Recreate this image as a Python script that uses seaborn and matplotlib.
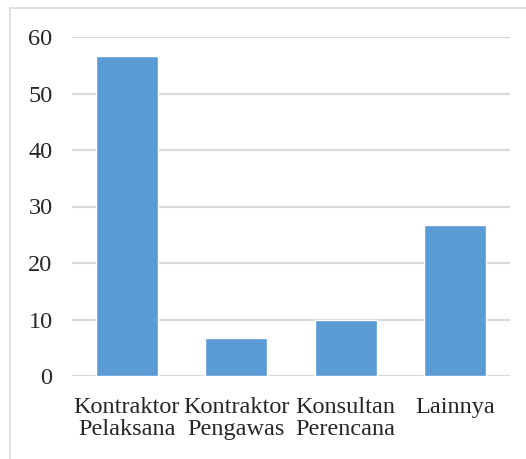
import pandas as pd
import seaborn as sns
import matplotlib.pyplot as plt
from matplotlib.lines import Line2D

kategori = ['Kontraktor\nPelaksana', 'Kontraktor\nPengawas', 'Konsultan\nPerencana', 'Lainnya']
nilai = [56.67, 6.67, 10.0, 26.67]
yticks = [0, 10, 20, 30, 40, 50, 60]

df = pd.DataFrame({'kategori': kategori, 'nilai': nilai})

sns.set_style('white')
plt.rcParams['font.family'] = ['Liberation Serif', 'DejaVu Serif']

fig = plt.figure(figsize=(5.26, 4.59), dpi=100)
ax = fig.add_axes([72 / 526, 1 - 376 / 459, 438 / 526, 339 / 459])

sns.barplot(data=df, x='kategori', y='nilai', color='#5B9BD5', saturation=1,
            width=0.57, ax=ax, zorder=3)

ax.set_ylim(0, 60)
ax.set_yticks(yticks)
ax.set_yticklabels([str(t) for t in yticks])
ax.yaxis.grid(True, color='#d9d9d9', linewidth=1.6, zorder=0)
ax.set_axisbelow(True)
ax.set_xlabel('')
ax.set_ylabel('')
for s in ax.spines.values():
    s.set_visible(False)
ax.tick_params(axis='y', length=0, pad=14, labelsize=17.5)
ax.tick_params(axis='x', length=0, pad=15, labelsize=17.5)
for lbl in ax.get_xticklabels():
    lbl.set_linespacing(1.1)

# ramme rundt grafen
fig.add_artist(Line2D([10 / 526, 1], [1 - 8 / 459, 1 - 8 / 459], color='#d9d9d9', linewidth=1.2))
fig.add_artist(Line2D([10 / 526, 10 / 526], [0, 1 - 8 / 459], color='#d9d9d9', linewidth=1.2))

plt.savefig('out.png', dpi=100)
